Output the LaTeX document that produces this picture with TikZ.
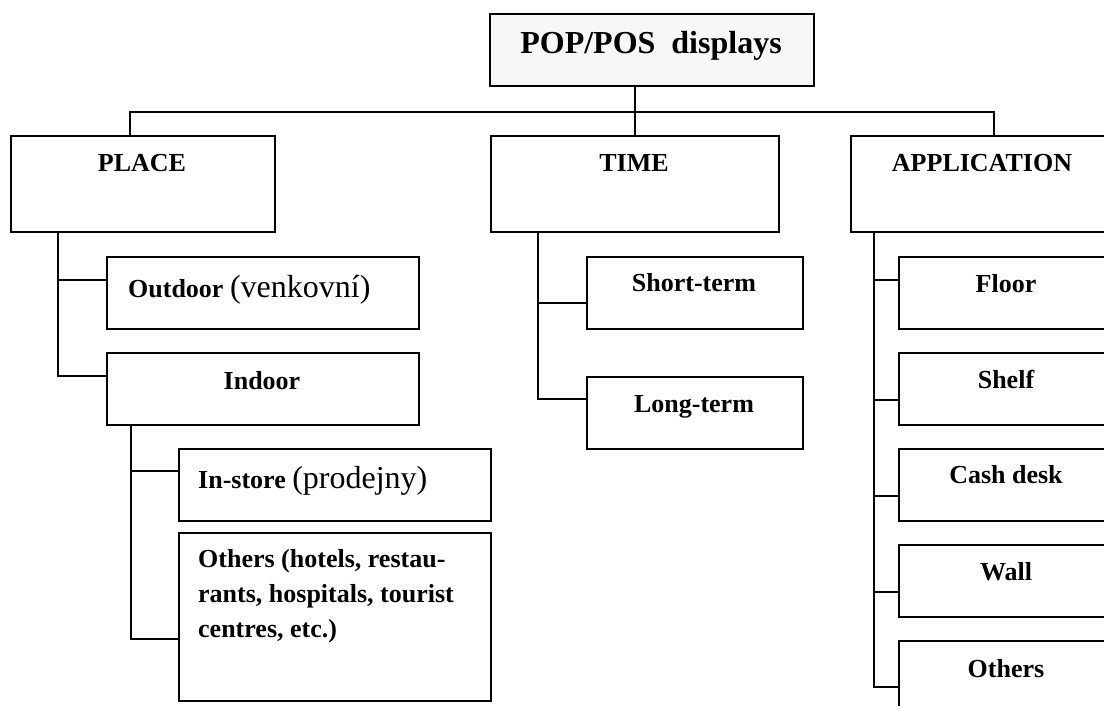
\documentclass[tikz,border=0pt]{standalone}
\usepackage{fontspec}
\setmainfont{Liberation Serif}
\usetikzlibrary{calc}
\definecolor{titlefill}{HTML}{F7F7F7}
% regular, larger type for the Czech glosses
\newcommand{\glossfont}{\mdseries\fontsize{32}{35}\selectfont}
\begin{document}
\begin{tikzpicture}[x=1pt,y=-1pt,
  box/.style={draw,line width=1.9pt,rectangle,inner sep=0pt,anchor=north west},
  link/.style={line width=1.9pt},
  lbl/.style={inner sep=0pt,anchor=base,font=\bfseries\fontsize{26}{35}\selectfont},
  lbll/.style={lbl,anchor=base west}]
\useasboundingbox (0,0) rectangle (1104,706);
\clip (0,0) rectangle (1104,706);
\fill[white] (0,0) rectangle (1104,706);

% root
\node[box,fill=titlefill,minimum width=324pt,minimum height=72pt] (root) at (489,13) {};
\node[lbl,font=\bfseries\fontsize{32}{38}\selectfont] (roottxt) at (651,54) {POP/POS~ displays};

% first level
\node[box,minimum width=264pt,minimum height=96pt] (place) at (10,135) {};
\node[box,minimum width=288pt,minimum height=96pt] (time) at (490,135) {};
\node[box,minimum width=270pt,minimum height=96pt] (app) at (850,135) {};
\node[lbl] (placetxt) at (142,172) {PLACE};
\node[lbl] (timetxt) at (634,172) {TIME};
\node[lbl] (apptxt) at (982,172) {APPLICATION};

% place branch
\node[box,minimum width=312pt,minimum height=72pt] (outdoor) at (106,256) {};
\node[box,minimum width=312pt,minimum height=72pt] (indoor) at (106,352) {};
\node[box,minimum width=312pt,minimum height=72pt] (instore) at (178,448) {};
\node[box,minimum width=312pt,minimum height=168pt] (others) at (178,532) {};
\node[lbll] (outdoortxt) at (128,297) {Outdoor {\glossfont(venkovní)}};
\node[lbl] (indoortxt) at (262,389) {Indoor};
\node[lbll] (instoretxt) at (198,488) {In-store {\glossfont(prodejny)}};
\node[lbll] (otherstxta) at (198,567) {Others (hotels, restau-};
\node[lbll] (otherstxtb) at (198,602) {rants, hospitals, tourist};
\node[lbll] (otherstxtc) at (198,637) {centres, etc.)};

% time branch
\node[box,minimum width=216pt,minimum height=72pt] (short) at (586,256) {};
\node[box,minimum width=216pt,minimum height=72pt] (long) at (586,376) {};
\node[lbl] (shorttxt) at (694,291) {Short-term};
\node[lbl] (longtxt) at (694,412) {Long-term};

% application branch
\node[box,minimum width=230pt,minimum height=72pt] (floor) at (898,256) {};
\node[box,minimum width=230pt,minimum height=72pt] (shelf) at (898,352) {};
\node[box,minimum width=230pt,minimum height=72pt] (cash) at (898,448) {};
\node[box,minimum width=230pt,minimum height=72pt] (wall) at (898,544) {};
\node[box,minimum width=230pt,minimum height=72pt] (aothers) at (898,640) {};
\node[lbl] (floortxt) at (1006,292) {Floor};
\node[lbl] (shelftxt) at (1006,388) {Shelf};
\node[lbl] (cashtxt) at (1006,483) {Cash desk};
\node[lbl] (walltxt) at (1006,580) {Wall};
\node[lbl] (aotherstxt) at (1006,677) {Others};

% top-level connectors: the stem drops straight down onto TIME
\coordinate (hub) at ($(time.north)+(0,-23)$);
\draw[link] (hub |- root.south) -- (hub) -- (time.north);
\draw[link] ($(place.north west)+(120,0)$) |- (hub) -| ($(app.north west)+(144,0)$);

% place stems
\coordinate (pstem) at ($(place.south west)+(48,0)$);
\draw[link] (pstem) |- ($(outdoor.north west)+(0,24)$);
\draw[link] (pstem) |- ($(indoor.north west)+(0,24)$);
\coordinate (istem) at ($(indoor.south west)+(25,0)$);
\draw[link] (istem) |- ($(instore.north west)+(0,23)$);
\draw[link] (istem) |- ($(others.north west)+(0,107)$);

% time stems
\coordinate (tstem) at ($(time.south west)+(48,0)$);
\draw[link] (tstem) |- ($(short.north west)+(0,47)$);
\draw[link] (tstem) |- ($(long.north west)+(0,23)$);

% application stems
\coordinate (astem) at ($(app.south west)+(24,0)$);
\draw[link] (astem) |- ($(floor.north west)+(0,24)$);
\draw[link] (astem) |- ($(shelf.north west)+(0,48)$);
\draw[link] (astem) |- ($(cash.north west)+(0,48)$);
\draw[link] (astem) |- ($(wall.north west)+(0,48)$);
\draw[link] (astem) |- ($(aothers.north west)+(0,47)$);
\end{tikzpicture}
\end{document}
